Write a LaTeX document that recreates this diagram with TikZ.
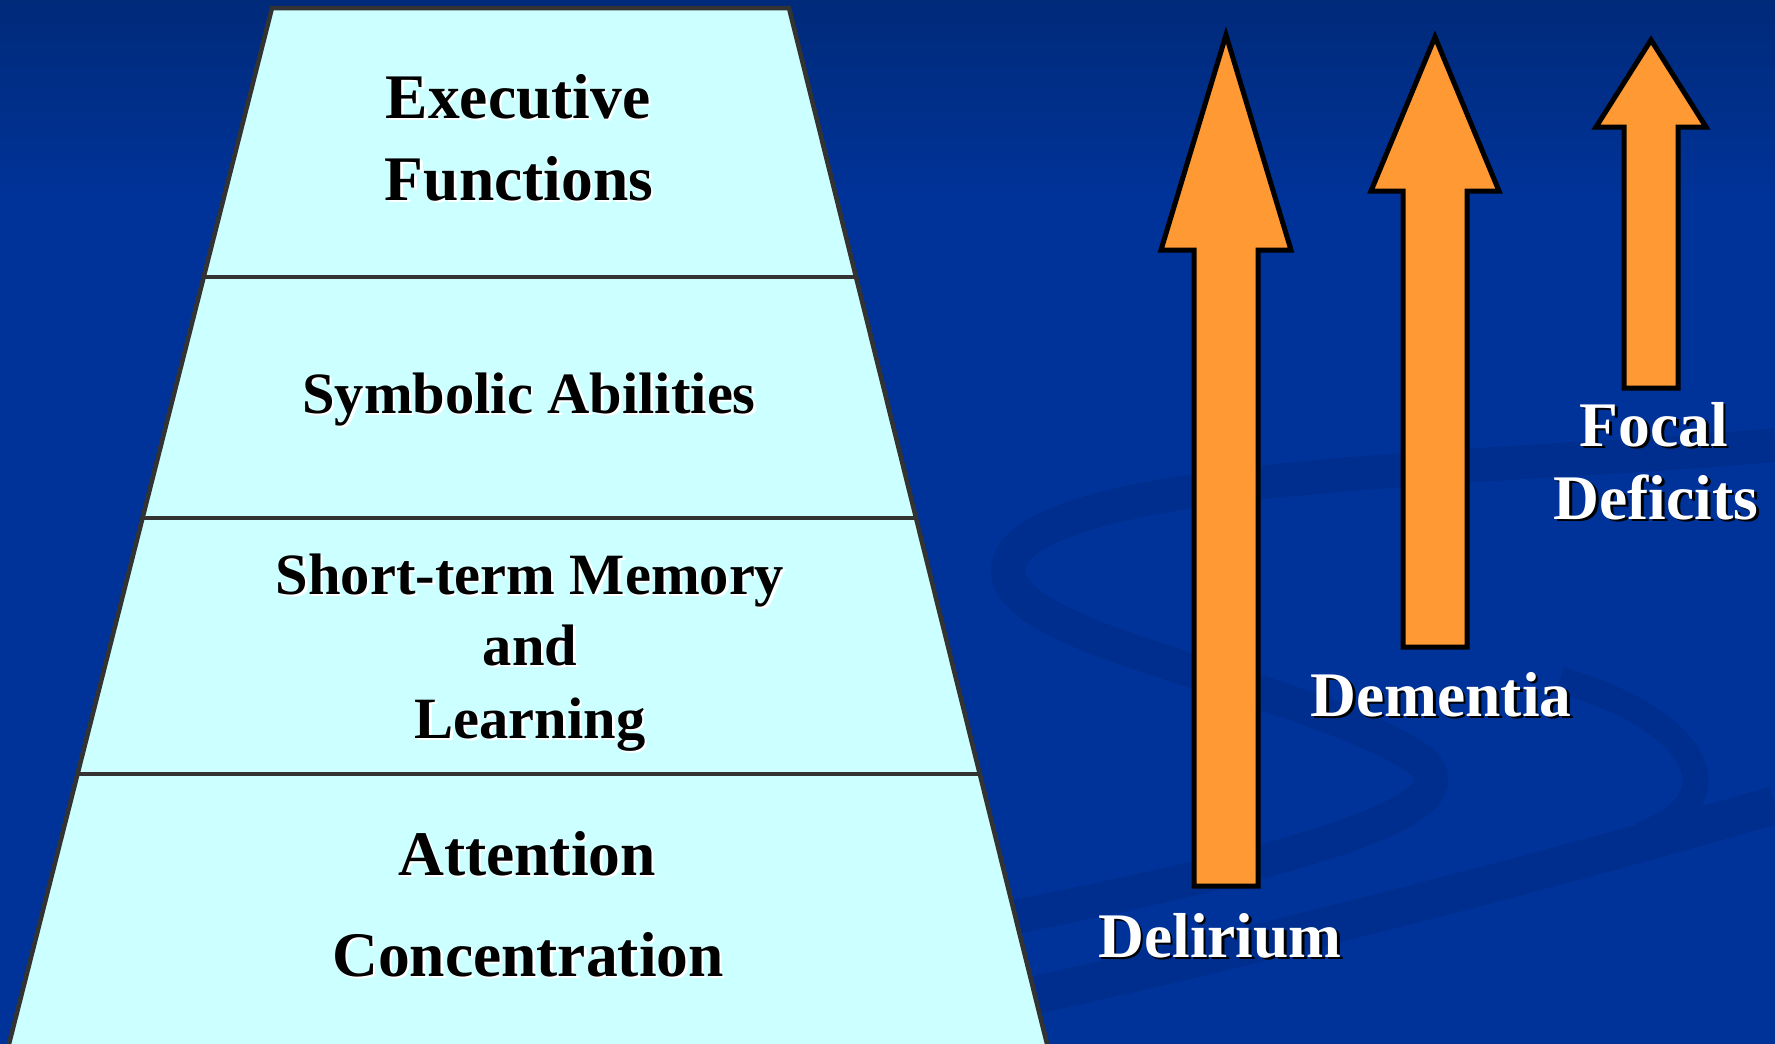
\documentclass[tikz,border=0pt]{standalone}
\usepackage{fontspec}
\setmainfont{Liberation Serif}
\usepackage{tikz}

\definecolor{bgblue}{RGB}{0,51,153}
\definecolor{bgtop}{RGB}{0,42,122}
\definecolor{swoosh}{RGB}{0,46,142}
\definecolor{pyrfill}{RGB}{204,255,255}
\definecolor{pyredge}{RGB}{51,51,51}
\definecolor{arrowfill}{RGB}{255,153,51}

% text with a small offset shadow behind it
\newcommand{\shadowed}[2]{\makebox[0pt][l]{\kern2.5pt\raisebox{-2.5pt}{\color{#1}#2}}#2}

\begin{document}
\begin{tikzpicture}[x=1pt,y=-1pt,
  bigtext/.style={font=\fontsize{63.5}{70}\selectfont\bfseries,anchor=base,inner sep=0pt},
  smalltext/.style={font=\fontsize{58.5}{64}\selectfont\bfseries,anchor=base,inner sep=0pt},
  levelline/.style={draw=pyredge,line width=4.5pt},
  bigarrow/.style={fill=arrowfill,draw=black,line width=5pt,line join=miter}]
\useasboundingbox (0,0) rectangle (1775,1044);
% background
\fill[bgblue] (0,0) rectangle (1775,1044);
\shade[top color=bgtop,bottom color=bgblue] (0,0) rectangle (1775,200);
\draw[swoosh,line width=34pt] (1775,445) .. controls (1500,470) and (1050,470) .. (1010,560)
  .. controls (980,640) and (1300,680) .. (1420,760) .. controls (1480,810) and (1300,860) .. (1000,920);
\draw[swoosh,line width=26pt] (1560,680) .. controls (1700,720) and (1740,800) .. (1640,835);
\draw[swoosh,line width=38pt] (1775,805) .. controls (1500,885) and (1200,960) .. (990,1005);
% pyramid
\filldraw[fill=pyrfill,levelline] (272,8) -- (789,8) -- (1048,1048) -- (8,1048) -- cycle;
\draw[levelline] (204,277) -- (856,277);
\draw[levelline] (144,518) -- (915,518);
\draw[levelline] (79,774) -- (980,774);
\node[bigtext] (exec) at (518,118) {\shadowed{white}{Executive}};
\node[bigtext] (func) at (519,200) {\shadowed{white}{Functions}};
\node[smalltext] (symb) at (529,413) {\shadowed{white}{Symbolic Abilities}};
\node[smalltext] (stm) at (530,594) {\shadowed{white}{Short-term Memory}};
\node[smalltext] (and) at (530,665) {\shadowed{white}{and}};
\node[smalltext] (learn) at (530,738) {\shadowed{white}{Learning}};
\node[bigtext] (attn) at (527,875) {\shadowed{white}{Attention}};
\node[bigtext] (conc) at (528,976) {\shadowed{white}{Concentration}};
% arrows
\filldraw[bigarrow] (1226,35) -- (1291,250) -- (1258,250) -- (1258,886) -- (1194,886) -- (1194,250) -- (1161,250) -- cycle;
\filldraw[bigarrow] (1435,37) -- (1499,191) -- (1467,191) -- (1467,647) -- (1403,647) -- (1403,191) -- (1371,191) -- cycle;
\filldraw[bigarrow] (1651,40) -- (1706,127) -- (1678,127) -- (1678,388) -- (1624,388) -- (1624,127) -- (1596,127) -- cycle;
\node[bigtext,text=white] (delir) at (1220,957) {\shadowed{black}{Delirium}};
\node[bigtext,text=white] (dement) at (1441,716) {\shadowed{black}{Dementia}};
\node[bigtext,text=white] (focal) at (1654,446) {\shadowed{black}{Focal}};
\node[bigtext,text=white] (defic) at (1656,519) {\shadowed{black}{Deficits}};
\end{tikzpicture}
\end{document}
